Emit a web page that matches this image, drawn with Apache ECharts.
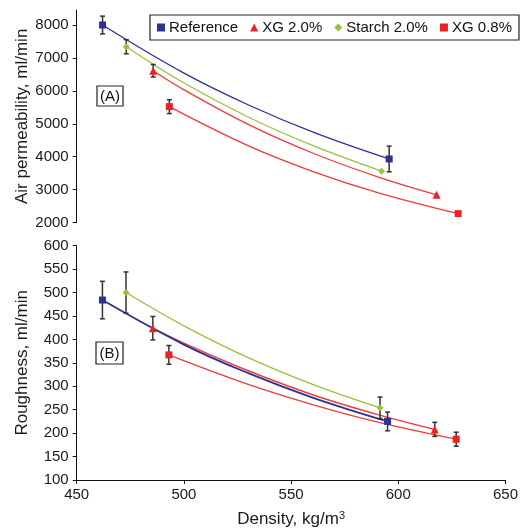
<!DOCTYPE html>
<html><head><meta charset="utf-8">
<script src="https://cdn.jsdelivr.net/npm/echarts@6/dist/echarts.min.js"></script>
<style>html,body{margin:0;padding:0;background:#fff}#c{width:521px;height:529px}</style>
</head><body><div id="c"></div>
<script>
// ---- data ----
const seriesNames = ['Reference', 'XG 2.0%', 'Starch 2.0%', 'XG 0.8%'];
const xTicks = [450, 500, 550, 600, 650];
const airTicks = [2000, 3000, 4000, 5000, 6000, 7000, 8000];
const roughTicks = [100, 150, 200, 250, 300, 350, 400, 450, 500, 550, 600];

// measured points (density, value, +/- error)
const refX = [462, 595];
const refAir = [8000, 3930];
const refAirErr = [270, 390];
const refRough = [484, 225];
const refRoughErr = [40, 20];

const xg2X = [485.5, 617];
const xg2Air = [6610, 2840];
const xg2AirErr = [190, 0];
const xg2Rough = [424, 208];
const xg2RoughErr = [25, 15];

const stX = [473, 591.5];
const stAir = [7340, 3560];
const stAirErr = [215, 0];
const stRough = [500, 254];
const stRoughErr = [44, 23];

const xg08X = [493, 627];
const xg08Air = [5520, 2270];
const xg08AirErr = [210, 60];
const xg08Rough = [367, 187];
const xg08RoughErr = [20, 15];

// trend curves
const refTrendX = [462, 500, 530, 560, 595];
const refAirTrend = [8000, 6530, 5563, 4738, 3930];
const refRoughTrend = [484, 389, 328, 276, 225];

const stTrendX = [473, 500, 530, 560, 591.5];
const stAirTrend = [7340, 6229, 5190, 4325, 3560];
const stRoughTrend = [500, 429, 361, 304, 254];

const xg2TrendX = [485.5, 500, 530, 560, 590, 617];
const xg2AirTrend = [6610, 6022, 4967, 4096, 3378, 2840];
const xg2RoughTrend = [424, 392, 333, 282, 240, 208];

const xg08TrendX = [493, 530, 560, 590, 627];
const xg08AirTrend = [5520, 4319, 3540, 2901, 2270];
const xg08RoughTrend = [367, 304, 261, 224, 187];

// ---- helpers ----
const zip = (xs, ys) => xs.map((x, i) => [x, ys[i]]);
const errData = (xs, ys, es) => xs.map((x, i) => [x, ys[i] - es[i], ys[i] + es[i]]).filter((d, i) => es[i] > 0);

const BLUE = '#2e3192', RED = '#ed2124', GREEN = '#97c23c', LRED = '#ef3b3b';
const FONT = 'Liberation Sans, Arial, Helvetica, sans-serif';

function errRender(params, api) {
  const x = api.value(0), lo = api.value(1), hi = api.value(2);
  const a = api.coord([x, hi]), b = api.coord([x, lo]);
  const w = 2.5;
  const st = { stroke: '#333', lineWidth: 1.5 };
  return { type: 'group', children: [
    { type: 'line', shape: { x1: a[0], y1: a[1], x2: b[0], y2: b[1] }, style: st },
    { type: 'line', shape: { x1: a[0] - w, y1: a[1], x2: a[0] + w, y2: a[1] }, style: st },
    { type: 'line', shape: { x1: b[0] - w, y1: b[1], x2: b[0] + w, y2: b[1] }, style: st }
  ]};
}

const L = 76.7, R = 13.3;
const series = [];
function addPanel(gi, data) {
  data.curves.forEach(c => series.push({
    type: 'line', name: c.name + ' fit', xAxisIndex: gi, yAxisIndex: gi,
    data: zip(c.x, c.y), smooth: 0.4, showSymbol: false, symbol: 'none',
    lineStyle: { color: c.color, width: c.w }, silent: true, z: 2
  }));
  series.push({
    type: 'custom', name: 'err' + gi, xAxisIndex: gi, yAxisIndex: gi,
    renderItem: errRender, encode: { x: 0, y: [1, 2] }, data: data.err, z: 3, silent: true
  });
  data.marks.forEach(m => series.push({
    type: 'scatter', name: m.name, xAxisIndex: gi, yAxisIndex: gi,
    data: zip(m.x, m.y), symbol: m.symbol, symbolSize: m.size,
    itemStyle: { color: m.color, opacity: 1 }, z: 5
  }));
}

addPanel(0, {
  curves: [
    { name: 'Reference', x: refTrendX, y: refAirTrend, color: BLUE, w: 1.3 },
    { name: 'Starch', x: stTrendX, y: stAirTrend, color: GREEN, w: 1.3 },
    { name: 'XG2', x: xg2TrendX, y: xg2AirTrend, color: LRED, w: 1.3 },
    { name: 'XG08', x: xg08TrendX, y: xg08AirTrend, color: LRED, w: 1.3 }
  ],
  err: [].concat(errData(refX, refAir, refAirErr), errData(xg2X, xg2Air, xg2AirErr),
                 errData(stX, stAir, stAirErr), errData(xg08X, xg08Air, xg08AirErr)),
  marks: [
    { name: seriesNames[0], x: refX, y: refAir, symbol: 'rect', size: 7, color: BLUE },
    { name: seriesNames[1], x: xg2X, y: xg2Air, symbol: 'triangle', size: 8, color: RED },
    { name: seriesNames[2], x: stX, y: stAir, symbol: 'diamond', size: 7, color: GREEN },
    { name: seriesNames[3], x: xg08X, y: xg08Air, symbol: 'rect', size: 7, color: RED }
  ]
});
addPanel(1, {
  curves: [
    { name: 'Starch', x: stTrendX, y: stRoughTrend, color: GREEN, w: 1.3 },
    { name: 'XG2', x: xg2TrendX, y: xg2RoughTrend, color: LRED, w: 1.5 },
    { name: 'Reference', x: refTrendX, y: refRoughTrend, color: BLUE, w: 1.8 },
    { name: 'XG08', x: xg08TrendX, y: xg08RoughTrend, color: LRED, w: 1.3 }
  ],
  err: [].concat(errData(refX, refRough, refRoughErr), errData(xg2X, xg2Rough, xg2RoughErr),
                 errData(stX, stRough, stRoughErr), errData(xg08X, xg08Rough, xg08RoughErr)),
  marks: [
    { name: seriesNames[0], x: refX, y: refRough, symbol: 'rect', size: 7, color: BLUE },
    { name: seriesNames[1], x: xg2X, y: xg2Rough, symbol: 'triangle', size: 8, color: RED },
    { name: seriesNames[2], x: stX, y: stRough, symbol: 'diamond', size: 7, color: GREEN },
    { name: seriesNames[3], x: xg08X, y: xg08Rough, symbol: 'rect', size: 7, color: RED }
  ]
});

const axisText = { color: '#1a1a1a', fontSize: 15, fontFamily: FONT, formatter: v => String(v) };
const nameText = { color: '#1a1a1a', fontSize: 17, fontFamily: FONT };
const lineStyle = { color: '#111', width: 1 };

const option = {
  animation: false,
  backgroundColor: '#fff',
  grid: [
    { left: L, right: R, top: 10.2, bottom: 529 - 222.5, containLabel: false },
    { left: L, right: R, top: 245.7, bottom: 529 - 480.7, containLabel: false }
  ],
  xAxis: [
    { type: 'value', gridIndex: 0, min: xTicks[0], max: xTicks[xTicks.length - 1], interval: 50, show: false },
    { type: 'value', gridIndex: 1, min: xTicks[0], max: xTicks[xTicks.length - 1], interval: 50,
      name: 'Density, kg/m{sup|3}', nameLocation: 'middle', nameGap: 30, nameMoveOverlap: false,
      nameTextStyle: Object.assign({}, nameText, { rich: { sup: { fontSize: 11, fontFamily: FONT, color: '#1a1a1a', padding: [0, 0, 8, 0] } } }),
      axisLine: { show: true, onZero: false, lineStyle },
      axisTick: { show: true, length: 4, lineStyle },
      axisLabel: Object.assign({ margin: 7 }, axisText),
      splitLine: { show: false } }
  ],
  yAxis: [
    { type: 'value', gridIndex: 0, min: airTicks[0], max: 8450, interval: 1000,
      name: 'Air permeability, ml/min', nameLocation: 'middle', nameGap: 46, nameMoveOverlap: false, nameTextStyle: nameText,
      axisLine: { show: true, onZero: false, lineStyle },
      axisTick: { show: true, length: 4, lineStyle, customValues: airTicks },
      axisLabel: Object.assign({ margin: 8, customValues: airTicks }, axisText),
      splitLine: { show: false } },
    { type: 'value', gridIndex: 1, min: roughTicks[0], max: roughTicks[roughTicks.length - 1], interval: 50,
      name: 'Roughness, ml/min', nameLocation: 'middle', nameGap: 46, nameMoveOverlap: false, nameTextStyle: nameText,
      axisLine: { show: true, onZero: false, lineStyle },
      axisTick: { show: true, length: 4, lineStyle },
      axisLabel: Object.assign({ margin: 8 }, axisText),
      splitLine: { show: false } }
  ],
  legend: {
    data: [
      { name: seriesNames[0], icon: 'rect' },
      { name: seriesNames[1], icon: 'triangle' },
      { name: seriesNames[2], icon: 'diamond' },
      { name: seriesNames[3], icon: 'rect' }
    ],
    left: 150, top: 15, itemWidth: 8, itemHeight: 8, itemGap: 12,
    padding: [5, 7], borderColor: '#222', borderWidth: 1.2, borderRadius: 0,
    textStyle: { color: '#111', fontSize: 15, fontFamily: FONT, padding: [0, 0, 0, -1] },
    selectedMode: false
  },
  graphic: [
    { type: 'rect', shape: { x: 97, y: 86, width: 26, height: 20 }, style: { fill: '#fff', stroke: '#222', lineWidth: 1.2 }, z: 10 },
    { type: 'text', x: 110, y: 96.5, style: { text: '(A)', font: '15px ' + FONT, fill: '#111', align: 'center', verticalAlign: 'middle' }, z: 11 },
    { type: 'rect', shape: { x: 96, y: 342, width: 27, height: 22 }, style: { fill: '#fff', stroke: '#222', lineWidth: 1.2 }, z: 10 },
    { type: 'text', x: 109.5, y: 353.5, style: { text: '(B)', font: '15px ' + FONT, fill: '#111', align: 'center', verticalAlign: 'middle' }, z: 11 }
  ],
  series: series
};

const chart = echarts.init(document.getElementById('c'), null, { renderer: 'canvas' });
chart.setOption(option);
</script>
</body></html>
